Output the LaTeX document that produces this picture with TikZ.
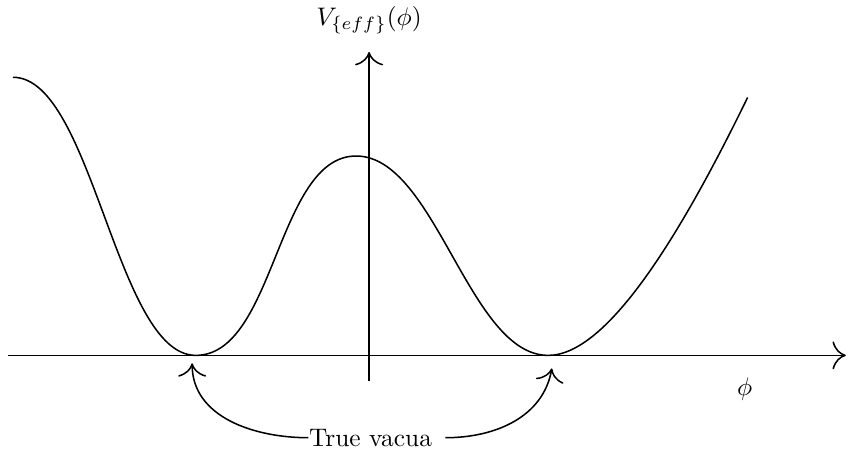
\documentclass[tikz,border=0pt]{standalone}
\usepackage{amsmath,amssymb}
\usepackage{tikz}
\usetikzlibrary{arrows.meta,positioning,calc}

\begin{document}
\begin{tikzpicture}[semithick,>={To[scale=1.8]}]
\useasboundingbox (-5.11,-1.34) rectangle (6.63,4.92);
\coordinate (lmin) at (-2.40,0);             % left vacuum
\coordinate (rmin) at (2.48,0);              % right vacuum
\coordinate (ltip) at (-2.45,-0.11);
\coordinate (rtip) at (2.53,-0.18);
\draw[->] (-5,0) -- (6.6,0);                 % phi axis
\draw[->] (0,-0.35) -- (0,4.2);              % V axis
\node (vlab) at (0,4.64) {$V_{\{eff\}}(\phi)$};
\node (philab) at (5.2,-0.47) {$\phi$};
% potential
\draw (-4.93,3.85) .. controls (-3.83,3.85) and (-3.50,0) .. (lmin)
      .. controls (-1.30,0) and (-1.28,2.76) .. (-0.18,2.76)
      .. controls (0.92,2.76) and (1.38,0) .. (rmin)
      .. controls (3.30,0) and (4.32,1.68) .. (5.24,3.57);
\node[inner sep=0pt] (vac) at (0.02,-1.14) {True vacua};
\draw[->] (vac.west) to[out=180,in=-90] (ltip);
\draw[->] ([xshift=5pt]vac.east) to[out=0,in=-100] (rtip);
\end{tikzpicture}
\end{document}
